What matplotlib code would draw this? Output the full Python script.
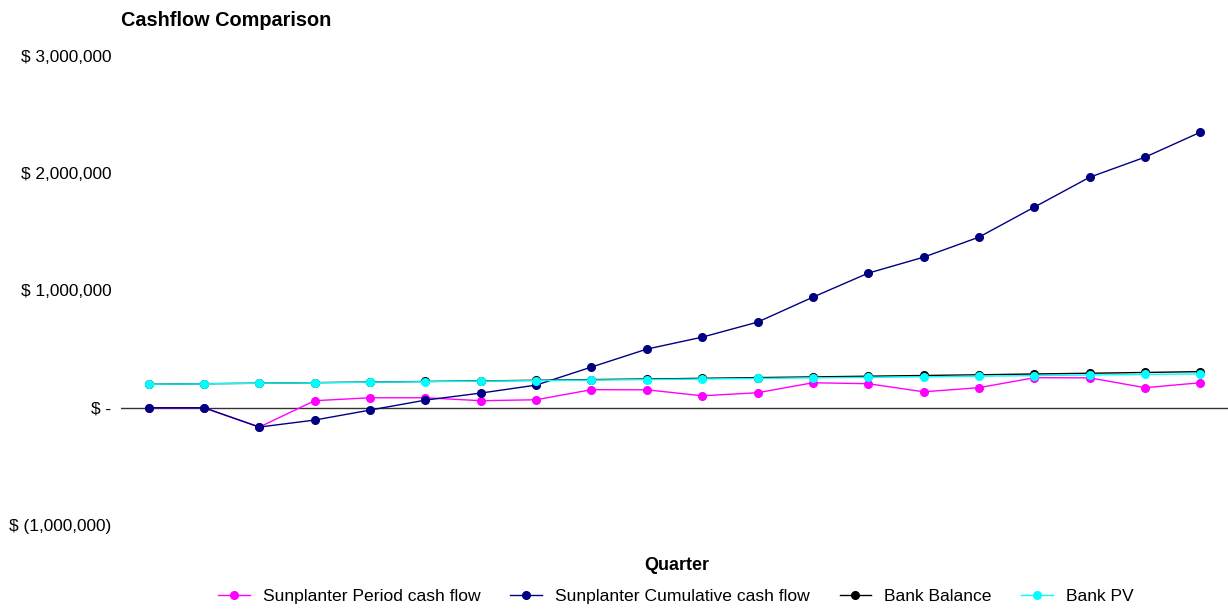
import matplotlib.pyplot as plt
import numpy as np

plt.rcParams['font.family'] = ['Liberation Sans', 'DejaVu Sans']

quarters = np.arange(1, 21)
period_cf = [0, 0, -165000, 60000, 85000, 85000, 60000, 68000, 154000, 153000,
             102000, 128000, 213000, 205000, 136000, 171000, 256000, 255000, 171000, 213000]
cumulative_cf = [0, 0, -165000, -105000, -20000, 65000, 125000, 193000, 347000, 500000,
                 602000, 730000, 943000, 1148000, 1284000, 1455000, 1711000, 1966000, 2137000, 2350000]
bank_balance = [200000, 205000, 209000, 214000, 219000, 224000, 229000, 234000, 240000, 245000,
                251000, 257000, 263000, 269000, 275000, 281000, 288000, 294000, 301000, 308000]
bank_pv = [200000, 204000, 209000, 213000, 218000, 222000, 227000, 231000, 236000, 240000,
           245000, 250000, 255000, 259000, 264000, 269000, 274000, 279000, 284000, 289000]

y_ticks = [-1000000, 0, 1000000, 2000000, 3000000]
y_labels = ['$ (1,000,000)', '$ -', '$ 1,000,000', '$ 2,000,000', '$ 3,000,000']

fig = plt.figure(figsize=(12.28, 6.11), dpi=100)
ax = fig.add_axes([0.0985, 0.1408, 0.9015, 0.7675])

series = [
    (period_cf, '#FF00FF', 'Sunplanter Period cash flow'),
    (cumulative_cf, '#000080', 'Sunplanter Cumulative cash flow'),
    (bank_balance, '#000000', 'Bank Balance'),
    (bank_pv, '#00FFFF', 'Bank PV'),
]
for vals, col, name in series:
    ax.plot(quarters, vals, color=col, lw=1, marker='o', markersize=5.5, label=name)

ax.axhline(0, color='#333333', lw=1, zorder=0)

ax.set_xlim(0.5, 20.5)
ax.set_ylim(-1000000, 3000000)
ax.set_xticks([])
ax.set_yticks(y_ticks)
ax.set_yticklabels(y_labels, fontsize=12.4)
ax.tick_params(axis='y', length=0, pad=7)
for s in ax.spines.values():
    s.set_visible(False)

fig.text(0.0985, 0.966, 'Cashflow Comparison', fontsize=14.3, fontweight='bold', va='center', ha='left')
fig.text(0.551, 0.075, 'Quarter', fontsize=13, fontweight='bold', ha='center', va='center')

fig.legend(loc='center', bbox_to_anchor=(0.5505, 0.024), ncol=4, frameon=False, fontsize=12.6,
           handlelength=1.8, handletextpad=0.75, columnspacing=1.7)

fig.savefig('out.png', dpi=100)
